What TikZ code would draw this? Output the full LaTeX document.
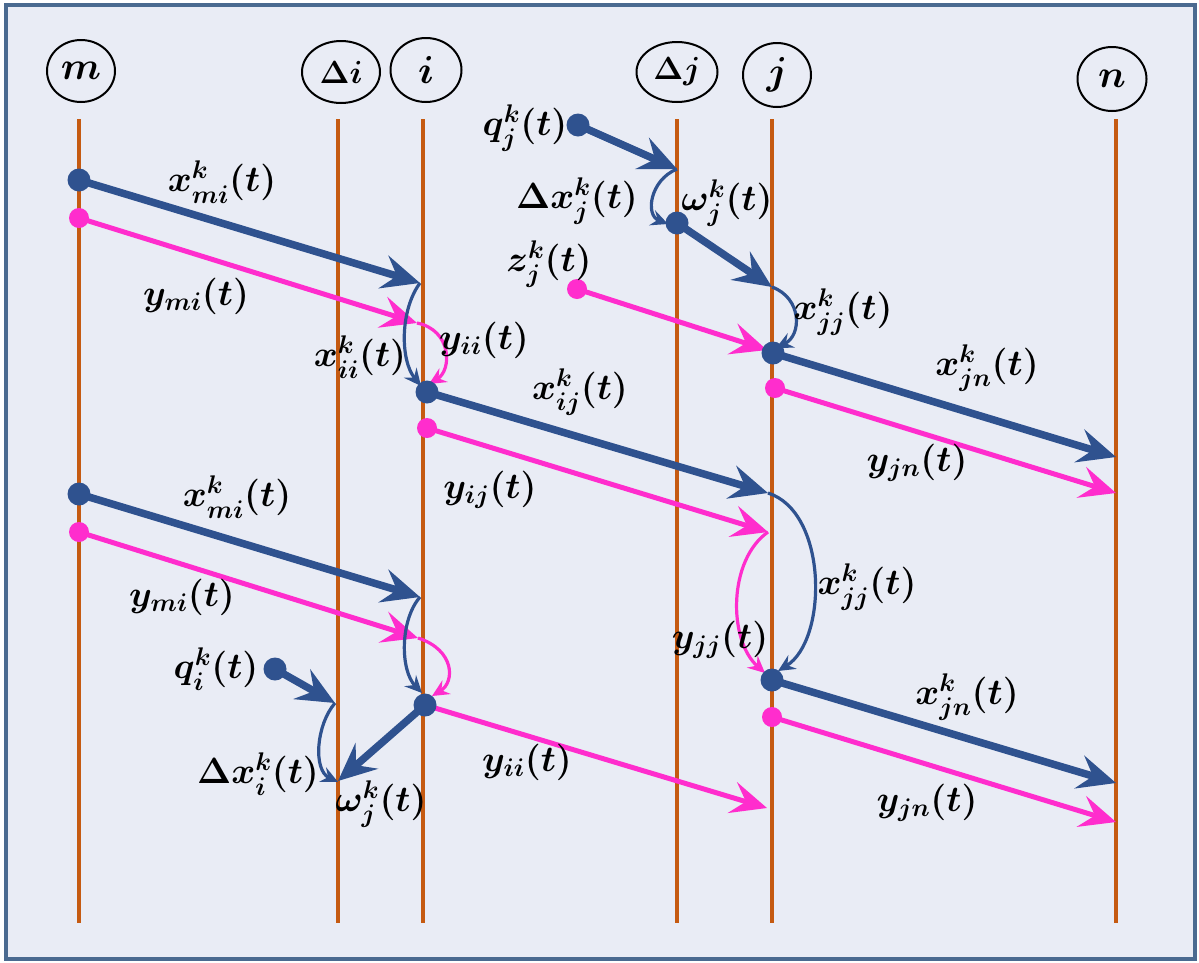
\documentclass[tikz,border=0pt]{standalone}
\usepackage{fix-cm}
\usepackage{graphicx}
\usetikzlibrary{arrows.meta, shapes.geometric}
\definecolor{cfond}{RGB}{233,236,245}
\definecolor{ccadre}{RGB}{74,106,144}
\definecolor{cligne}{RGB}{197,90,17}
\definecolor{cbleu}{RGB}{47,82,143}
\definecolor{crose}{RGB}{255,45,205}
\newcommand{\hlbl}[2][1.5]{\scalebox{#1}{$#2$}}

\begin{document}
\begin{tikzpicture}[x=1pt, y=-1pt,
  lane/.style={cligne, line width=4pt},
  head/.style={draw=black, line width=2pt, ellipse, inner sep=0pt,
    minimum width=68pt, minimum height=62pt,
    font=\fontsize{26}{30}\selectfont\boldmath},
  lbl/.style={inner sep=0pt, scale=1.35, transform shape,
    font=\fontsize{27}{31}\selectfont\boldmath},
  bflow/.style={cbleu, line width=7.5pt,
    -{Stealth[length=38pt, width=34pt, inset=14pt]}},
  rflow/.style={crose, line width=5pt,
    -{Stealth[length=36pt, width=32pt, inset=14pt]}},
  bloop/.style={cbleu, line width=3.2pt,
    -{Stealth[length=17pt, width=16pt, inset=6pt]}},
  rloop/.style={crose, line width=3.2pt,
    -{Stealth[length=17pt, width=16pt, inset=6pt]}},
  bdot/.style={circle, fill=cbleu, minimum size=23pt, inner sep=0pt},
  rdot/.style={circle, fill=crose, minimum size=20pt, inner sep=0pt}]

  % cadre
  \useasboundingbox (0,0) rectangle (1199,962);
  \fill[white] (0,0) rectangle (1199,962);
  \draw[ccadre, line width=3.5pt, fill=cfond] (6,5) rectangle (1195,959);

  % axes des noeuds
  \foreach \nm/\xx in {m/79, di/338, i/423, dj/677, j/772, n/1116}
    \draw[lane] (\xx,119) coordinate (\nm-top) -- (\xx,923) coordinate (\nm-bot);

  \node[head] (hm) at (81,71) {\hlbl{m}};
  \node[head, minimum width=78pt, font=\fontsize{20}{24}\selectfont\boldmath]
       (hdi) at (341,72) {\hlbl[1.6]{\Delta i}};
  \node[head, minimum width=71pt, minimum height=64pt] (hi) at (426,70) {\hlbl{i}};
  \node[head, minimum width=81pt, minimum height=60pt,
        font=\fontsize{20}{24}\selectfont\boldmath] (hdj) at (677,72) {\hlbl[1.6]{\Delta j}};
  \node[head, minimum height=64pt] (hj) at (777,75) {\hlbl{j}};
  \node[head, minimum width=69pt, minimum height=64pt] (hn) at (1112,79) {\hlbl{n}};

  % points
  \coordinate (pm1) at (79,180);   \coordinate (qm1) at (79,218);
  \coordinate (ai1) at (420,283);  \coordinate (bi1) at (417,323);
  \coordinate (pi1) at (427,392);  \coordinate (qi1) at (427,428);
  \coordinate (aj1) at (768,493);  \coordinate (bj1) at (768,532);
  \coordinate (pqj) at (578,125);  \coordinate (adj) at (677,169);
  \coordinate (pdj) at (677,223);  \coordinate (awj) at (772,287);
  \coordinate (pzj) at (577,289);  \coordinate (azj) at (767,350);
  \coordinate (pj1) at (773,353);  \coordinate (qj1) at (775,388);
  \coordinate (an1) at (1116,457); \coordinate (bn1) at (1116,493);
  \coordinate (pm2) at (79,494);   \coordinate (qm2) at (79,532);
  \coordinate (ai2) at (420,597);  \coordinate (bi2) at (418,638);
  \coordinate (pi2) at (425,705);  \coordinate (adi) at (338,781);
  \coordinate (pqi) at (275,669);  \coordinate (aqi) at (335,703);
  \coordinate (bj2) at (767,808);
  \coordinate (pj2) at (772,680);  \coordinate (qj2) at (772,717);
  \coordinate (an2) at (1116,783); \coordinate (bn2) at (1116,822);

  % flux principaux
  \draw[bflow] (pm1) -- (ai1);
  \draw[rflow] (qm1) -- (bi1);
  \draw[bflow] (pi1) -- (aj1);
  \draw[rflow] (qi1) -- (bj1);
  \draw[bflow] (pqj) -- (adj);
  \draw[bflow] (pdj) -- (awj);
  \draw[rflow] (pzj) -- (azj);
  \draw[bflow] (pj1) -- (an1);
  \draw[rflow] (qj1) -- (bn1);
  \draw[bflow] (pm2) -- (ai2);
  \draw[rflow] (qm2) -- (bi2);
  \draw[bflow] (pqi) -- (aqi);
  \draw[bflow] (pi2) -- (adi);
  \draw[rflow] (pi2) -- (bj2);
  \draw[bflow] (pj2) -- (an2);
  \draw[rflow] (qj2) -- (bn2);

  % boucles
  \draw[bloop] (ai1) .. controls (400,310) and (400,360) .. (421,386);
  \draw[rloop] (bi1) .. controls (452,330) and (452,370) .. (429,384);
  \draw[bloop] (adj) .. controls (650,180) and (645,215) .. (668,224);
  \draw[bloop] (awj) .. controls (802,298) and (802,335) .. (776,348);
  \draw[bloop] (aj1) .. controls (828,512) and (828,640) .. (778,671);
  \draw[rloop] (bj1) .. controls (728,560) and (728,640) .. (765,673);
  \draw[bloop] (ai2) .. controls (400,620) and (400,670) .. (422,693);
  \draw[rloop] (bi2) .. controls (455,650) and (455,682) .. (432,696);
  \draw[bloop] (aqi) .. controls (316,725) and (313,770) .. (338,782);

  % points de depart
  \foreach \pt in {pm1, pm2, pi1, pi2, pqj, pdj, pj1, pj2, pqi}
    \node[bdot] (d-\pt) at (\pt) {};
  \foreach \pt in {qm1, qm2, qi1, pzj, qj1, qj2}
    \node[rdot] (d-\pt) at (\pt) {};

  % etiquettes
  \node[lbl] (l-xmi1) at (222,182) {$x^k_{mi}(t)$};
  \node[lbl] (l-ymi1) at (196,296) {$y_{mi}(t)$};
  \node[lbl] (l-xii1) at (360,357) {$x^k_{ii}(t)$};
  \node[lbl] (l-yii1) at (484,340) {$y_{ii}(t)$};
  \node[lbl] (l-xij)  at (580,392) {$x^k_{ij}(t)$};
  \node[lbl] (l-yij)  at (490,490) {$y_{ij}(t)$};
  \node[lbl] (l-qj)   at (525,128) {$q^k_j(t)$};
  \node[lbl] (l-dxj)  at (577,201) {$\Delta x^k_j(t)$};
  \node[lbl] (l-wj1)  at (727,203) {$\omega^k_j(t)$};
  \node[lbl] (l-zj)   at (549,264) {$z^k_j(t)$};
  \node[lbl] (l-xjj1) at (843,312) {$x^k_{jj}(t)$};
  \node[lbl] (l-xjn1) at (987,368) {$x^k_{jn}(t)$};
  \node[lbl] (l-yjn1) at (917,463) {$y_{jn}(t)$};
  \node[lbl] (l-xmi2) at (237,497) {$x^k_{mi}(t)$};
  \node[lbl] (l-ymi2) at (182,597) {$y_{mi}(t)$};
  \node[lbl] (l-qi)   at (216,669) {$q^k_i(t)$};
  \node[lbl] (l-dxi)  at (258,774) {$\Delta x^k_i(t)$};
  \node[lbl] (l-wj2)  at (381,804) {$\omega^k_j(t)$};
  \node[lbl] (l-yii2) at (527,762) {$y_{ii}(t)$};
  \node[lbl] (l-xjj2) at (867,587) {$x^k_{jj}(t)$};
  \node[lbl] (l-yjj)  at (720,640) {$y_{jj}(t)$};
  \node[lbl] (l-xjn2) at (967,697) {$x^k_{jn}(t)$};
  \node[lbl] (l-yjn2) at (927,803) {$y_{jn}(t)$};
\end{tikzpicture}
\end{document}
